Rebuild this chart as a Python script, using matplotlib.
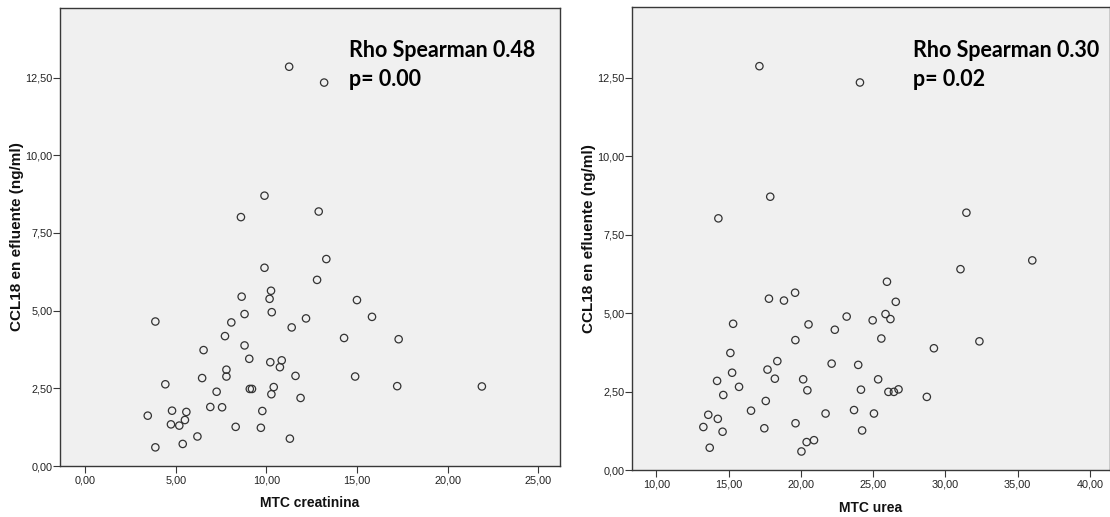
import matplotlib
matplotlib.use("Agg")
import matplotlib.pyplot as plt
from matplotlib import font_manager
from matplotlib.ticker import FuncFormatter, MultipleLocator

# MTC creatinina vs CCL18 en efluente
creat_x = [11.26, 13.19, 9.90, 12.89, 8.60, 13.31, 9.90, 12.80, 10.26, 8.64,
           10.18, 15.00, 15.83, 12.19, 10.30, 8.80, 3.88, 8.07, 11.40, 14.29,
           17.30, 7.72, 8.80, 6.54, 9.06, 10.22, 10.85, 10.75, 7.80, 7.80,
           11.61, 14.90, 6.46, 4.43, 17.22, 21.89, 9.09, 9.21, 10.41, 7.26,
           10.28, 11.89, 6.91, 7.56, 4.80, 5.59, 9.78, 3.46, 5.51, 4.74,
           5.20, 8.31, 9.70, 6.20, 11.30, 5.39, 3.88]
creat_y = [12.85, 12.34, 8.70, 8.19, 8.01, 6.66, 6.38, 5.99, 5.64, 5.45,
           5.38, 5.34, 4.80, 4.75, 4.95, 4.89, 4.65, 4.62, 4.46, 4.12,
           4.08, 4.18, 3.88, 3.73, 3.45, 3.34, 3.40, 3.18, 3.10, 2.88,
           2.90, 2.88, 2.83, 2.63, 2.57, 2.56, 2.48, 2.48, 2.54, 2.39,
           2.31, 2.19, 1.90, 1.89, 1.78, 1.74, 1.77, 1.62, 1.48, 1.34,
           1.30, 1.26, 1.23, 0.95, 0.88, 0.71, 0.60]

# MTC urea vs CCL18 en efluente
urea_x = [17.13, 24.09, 17.88, 14.29, 31.46, 36.02, 31.05, 25.96, 19.60, 17.79,
          18.83, 26.57, 25.86, 23.17, 26.20, 24.97, 15.31, 20.53, 22.35, 25.57,
          19.62, 32.36, 29.21, 15.12, 18.37, 22.13, 23.97, 17.69, 15.24, 14.20,
          18.20, 20.16, 25.35, 15.72, 20.45, 24.16, 26.06, 26.44, 26.76, 14.63,
          28.72, 17.57, 16.55, 23.68, 21.71, 25.06, 13.59, 14.25, 13.25, 17.47,
          19.63, 14.58, 24.24, 20.91, 20.40, 13.69, 20.04]
urea_y = [12.87, 12.35, 8.71, 8.02, 8.20, 6.68, 6.40, 6.00, 5.65, 5.46,
          5.40, 5.36, 4.97, 4.89, 4.81, 4.77, 4.66, 4.64, 4.47, 4.19,
          4.14, 4.10, 3.88, 3.73, 3.47, 3.39, 3.35, 3.20, 3.10, 2.84,
          2.91, 2.89, 2.89, 2.65, 2.54, 2.56, 2.49, 2.49, 2.57, 2.39,
          2.33, 2.20, 1.89, 1.91, 1.80, 1.80, 1.76, 1.63, 1.37, 1.33,
          1.49, 1.22, 1.26, 0.95, 0.89, 0.71, 0.59]

rho_labels = ["Rho Spearman 0.48", "Rho Spearman 0.30"]
p_labels = ["p= 0.00", "p= 0.02"]
x_labels = ["MTC creatinina", "MTC urea"]
y_label = "CCL18 en efluente (ng/ml)"

FRAME = "#383838"
BG = "#f0f0f0"
LABEL_FONT = ["Liberation Sans", "DejaVu Sans"]
NOTE_FONT = ["Lato", "DejaVu Sans"]

# narrow face for the tick numbers if it is there, else a smaller regular one
installed = {f.name for f in font_manager.fontManager.ttflist}
if "Liberation Sans Narrow" in installed:
    TICK_FONT, TICK_SIZE = ["Liberation Sans Narrow"], 8.5
else:
    TICK_FONT, TICK_SIZE = ["Liberation Sans", "DejaVu Sans"], 7.8

comma_fmt = FuncFormatter(lambda v, pos: f"{v:.2f}".replace(".", ","))

fig = plt.figure(figsize=(11.10, 5.17), dpi=100)
W, H = 1110, 517

# axes boxes in pixels: left, top, right, bottom
boxes = [(60, 8, 560, 466), (632, 7.5, 1110, 470)]
xlims = [(-1.38, 26.2), (8.31, 41.4)]
data = [(creat_x, creat_y), (urea_x, urea_y)]
ylab_x = [-0.072, -0.075]
note_x = [0.578, 0.588]

for i in range(2):
    l, t, r, b = boxes[i]
    ax = fig.add_axes([l / W, (H - b) / H, (r - l) / W, (b - t) / H])
    ax.set_facecolor(BG)
    xs, ys = data[i]
    ax.scatter(xs, ys, s=28, facecolors="none", edgecolors="#333333",
               linewidths=0.9, zorder=3)

    ax.set_xlim(*xlims[i])
    ax.set_ylim(0, 14.74)
    if i == 0:
        ax.xaxis.set_major_locator(MultipleLocator(5))
    else:
        ax.set_xticks([10, 15, 20, 25, 30, 35, 40])
    ax.set_yticks([0, 2.5, 5, 7.5, 10, 12.5])
    ax.xaxis.set_major_formatter(comma_fmt)
    ax.yaxis.set_major_formatter(comma_fmt)

    for sp in ax.spines.values():
        sp.set_color(FRAME)
        sp.set_linewidth(1.0)
    ax.tick_params(axis="both", direction="out", length=4.7, width=0.8,
                   color=FRAME, labelsize=TICK_SIZE, labelcolor="#222222",
                   top=False, right=False)
    ax.tick_params(axis="x", pad=2)
    ax.tick_params(axis="y", pad=0.5)
    for lab in ax.get_xticklabels() + ax.get_yticklabels():
        lab.set_family(TICK_FONT)

    ax.set_xlabel(x_labels[i], fontsize=10, fontweight="bold",
                  family=LABEL_FONT, color="#111111")
    ax.set_ylabel(y_label, fontsize=11, fontweight="bold",
                  family=LABEL_FONT, color="#111111")
    ax.xaxis.set_label_coords(0.5, -0.066)
    ax.yaxis.set_label_coords(ylab_x[i], 0.5)

    # Spearman correlation note
    ax.text(note_x[i], 0.892, rho_labels[i], transform=ax.transAxes,
            fontsize=15.5, fontweight="bold", family=NOTE_FONT,
            va="baseline", ha="left", color="#000000")
    ax.text(note_x[i], 0.830, p_labels[i], transform=ax.transAxes,
            fontsize=15.5, fontweight="bold", family=NOTE_FONT,
            va="baseline", ha="left", color="#000000")

fig.savefig("out.png", dpi=100, facecolor="white")
